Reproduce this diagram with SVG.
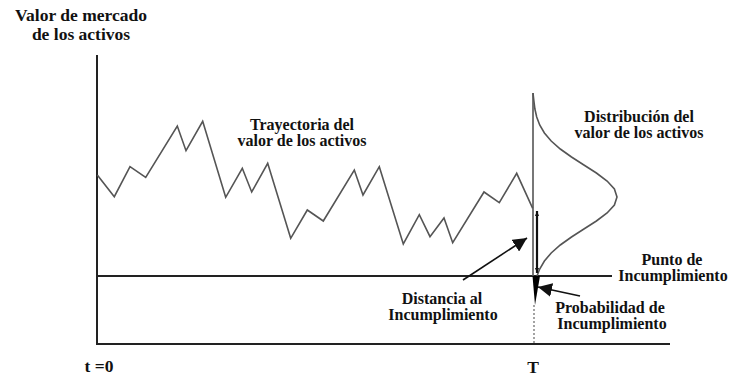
<svg xmlns="http://www.w3.org/2000/svg" width="736" height="379" viewBox="0 0 736 379">
<style>
.t{font-family:"Liberation Serif","Times New Roman",serif;font-weight:bold;font-size:16px;fill:#111;text-anchor:middle}
.big{font-size:17.5px}
.ax{stroke:#222;stroke-width:2;fill:none}
.g{stroke:#555;stroke-width:1.6;fill:none;stroke-linejoin:miter}
</style>
<defs>
<marker id="ah" viewBox="0 0 10 10" refX="10" refY="5" markerWidth="14" markerHeight="14" markerUnits="userSpaceOnUse" orient="auto"><path d="M0,0 L10,5 L0,10 Z" fill="#111"/></marker>
<marker id="sm" viewBox="0 0 10 10" refX="10" refY="5" markerWidth="5" markerHeight="5" markerUnits="userSpaceOnUse" orient="auto-start-reverse"><path d="M0,1 L10,5 L0,9 Z" fill="#111"/></marker>
</defs>
<g id="axes">
<line class="ax" x1="97" y1="55" x2="97" y2="345"/>
<line class="ax" x1="96" y1="344" x2="670" y2="344"/>
</g>
<g id="default-line">
<line class="ax" x1="97" y1="276" x2="612" y2="276"/>
</g>
<g id="trajectory">
<polyline class="g" points="97.3,175 114.3,196.7 130,166.7 145.7,177.3 177.3,126 186,150.7 202.7,121.3 225.7,197.3 242.3,168.3 251.7,192 267.7,163.3 290.7,238.3 307.3,210 323.3,221 354.3,170 363,195 379.3,166.7 403.3,244 419.3,214.7 430,236.7 444,218 452.7,242.7 484,192 499.3,202.7 516.7,173.3 532.7,208.3"/>
</g>
<g id="time-T">
<line class="g" x1="533" y1="93" x2="533" y2="276"/>
<line x1="534" y1="305" x2="534" y2="345" stroke="#666" stroke-width="1.2" stroke-dasharray="2,2"/>
</g>
<g id="distribution">
<polyline class="g" stroke-width="1.4" points="533,93 533.9,101 534.9,109 536.7,117 539.7,125 544.4,133 551.2,141 560.3,149 571.5,157 583.9,165 596.4,173 607.1,181 614.4,189 617,197 614.4,205 607.1,213 596.4,221 583.9,229 571.5,237 560.3,245 551.2,253 544.4,261 539.7,269 537,276"/>
</g>
<g id="default-probability">
<path d="M532.5,276 L540,276 L535,305 Z" fill="#000"/>
</g>
<g id="connectors">
<line x1="537" y1="211" x2="537" y2="273" stroke="#111" stroke-width="2.2" marker-start="url(#sm)" marker-end="url(#sm)"/>
<line x1="463" y1="280" x2="527" y2="238" stroke="#111" stroke-width="1.6" marker-end="url(#ah)"/>
<line x1="580" y1="296" x2="538" y2="287" stroke="#111" stroke-width="1.6" marker-end="url(#ah)"/>
</g>
<g id="labels">
<text class="t big" x="81" y="21">Valor de mercado</text>
<text class="t big" x="81" y="40">de los activos</text>
<text class="t" x="302" y="130">Trayectoria del</text>
<text class="t" x="302" y="146">valor de los activos</text>
<text class="t" x="639" y="122">Distribución del</text>
<text class="t" x="639" y="138">valor de los activos</text>
<text class="t" x="672" y="265">Punto de</text>
<text class="t" x="673" y="281">Incumplimiento</text>
<text class="t" x="442" y="304">Distancia al</text>
<text class="t" x="443" y="320">Incumplimiento</text>
<text class="t" x="610" y="313">Probabilidad de</text>
<text class="t" x="612" y="329">Incumplimiento</text>
<text class="t big" x="99" y="372">t =0</text>
<text class="t big" x="533" y="373">T</text>
</g>
</svg>
